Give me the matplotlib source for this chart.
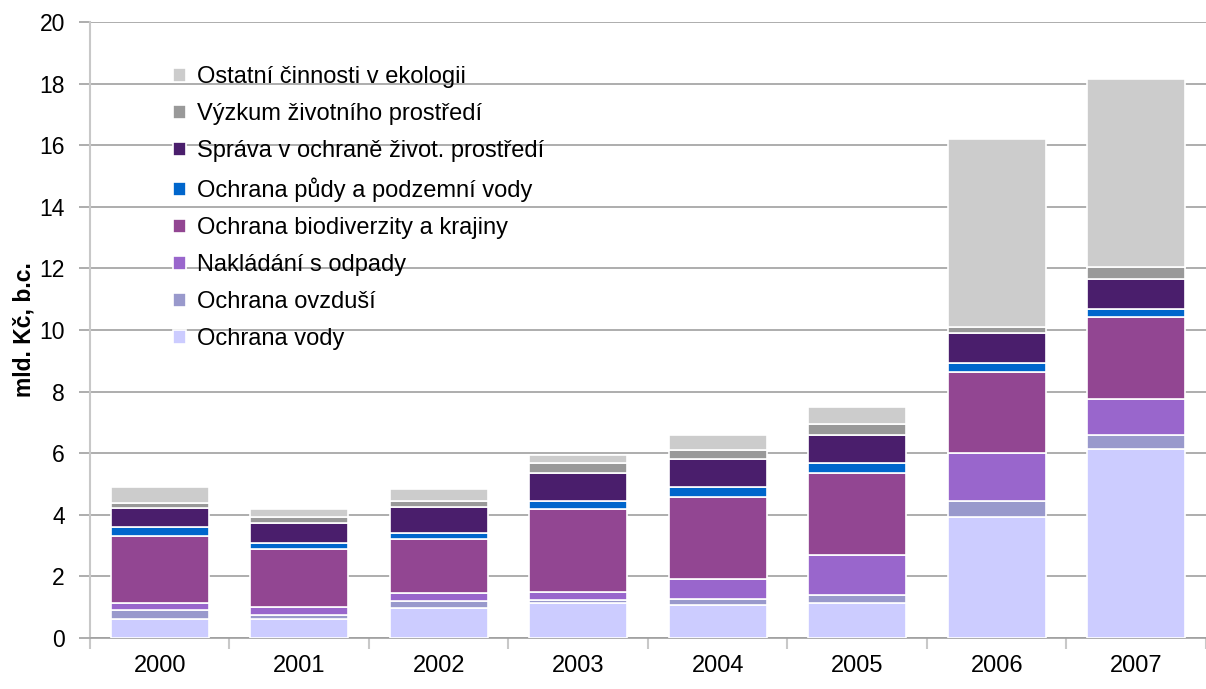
import matplotlib.pyplot as plt
import numpy as np

plt.rcParams['font.family'] = ['Liberation Sans', 'DejaVu Sans']

years = ['2000', '2001', '2002', '2003', '2004', '2005', '2006', '2007']

# mld. Kč, stacked from bottom to top
vody = [0.62, 0.62, 0.99, 1.14, 1.07, 1.14, 3.92, 6.14]
ovzdusi = [0.30, 0.13, 0.20, 0.10, 0.21, 0.25, 0.52, 0.44]
odpady = [0.21, 0.26, 0.26, 0.26, 0.65, 1.30, 1.57, 1.18]
biodiverzita = [2.19, 1.87, 1.76, 2.68, 2.65, 2.66, 2.64, 2.66]
puda = [0.27, 0.20, 0.20, 0.26, 0.32, 0.32, 0.27, 0.26]
sprava = [0.64, 0.65, 0.83, 0.91, 0.91, 0.91, 0.99, 0.97]
vyzkum = [0.14, 0.20, 0.20, 0.32, 0.31, 0.38, 0.19, 0.40]
ostatni = [0.52, 0.26, 0.39, 0.27, 0.48, 0.53, 6.11, 6.10]

series = [
    ('Ochrana vody', vody, '#CCCCFF'),
    ('Ochrana ovzduší', ovzdusi, '#9999CC'),
    ('Nakládání s odpady', odpady, '#9966CC'),
    ('Ochrana biodiverzity a krajiny', biodiverzita, '#924692'),
    ('Ochrana půdy a podzemní vody', puda, '#0066CC'),
    ('Správa v ochraně život. prostředí', sprava, '#4A1E6C'),
    ('Výzkum životního prostředí', vyzkum, '#999999'),
    ('Ostatní činnosti v ekologii', ostatni, '#CCCCCC'),
]

fig = plt.figure(figsize=(12.06, 6.89), dpi=100)
ax = fig.add_axes([0.0746, 0.074, 0.9254, 0.894])

x = np.arange(len(years))
bottom = np.zeros(len(years))
for name, vals, color in series:
    ax.bar(x, vals, bottom=bottom, width=0.7, color=color, label=name,
           edgecolor='white', linewidth=1.2, zorder=3)
    bottom += np.array(vals)

ax.set_ylim(0, 20)
ax.set_xlim(-0.5, 7.5)
ax.set_yticks(np.arange(0, 21, 2))
ax.yaxis.grid(True, color='#A0A0A0', linewidth=1.2, zorder=0)
ax.set_axisbelow(True)

ax.set_xticks(x)
ax.set_xticklabels(years, fontsize=17)
ax.set_xticks(np.arange(-0.5, 8, 1), minor=True)
ax.tick_params(axis='x', which='major', length=0, pad=12)
ax.tick_params(axis='x', which='minor', length=8, width=1.5, color='#C8C8C8')
ax.tick_params(axis='y', labelsize=16.5, length=8, width=1.2, color='#A0A0A0', pad=10)

for s in ['top', 'right']:
    ax.spines[s].set_visible(False)
ax.spines['left'].set_color('#C8C8C8')
ax.spines['left'].set_linewidth(1.5)
ax.spines['bottom'].set_color('#A0A0A0')
ax.spines['bottom'].set_linewidth(1.2)

ax.set_ylabel('mld. Kč, b.c.', fontsize=16.5, fontweight='bold', labelpad=3)

handles, labels = ax.get_legend_handles_labels()
ax.legend(handles[::-1], labels[::-1], loc='upper left',
          bbox_to_anchor=(0.0555, 0.963), frameon=False, fontsize=17,
          handlelength=0.55, handleheight=0.55, handletextpad=0.45,
          labelspacing=0.64)

fig.savefig('out.png', dpi=100)
